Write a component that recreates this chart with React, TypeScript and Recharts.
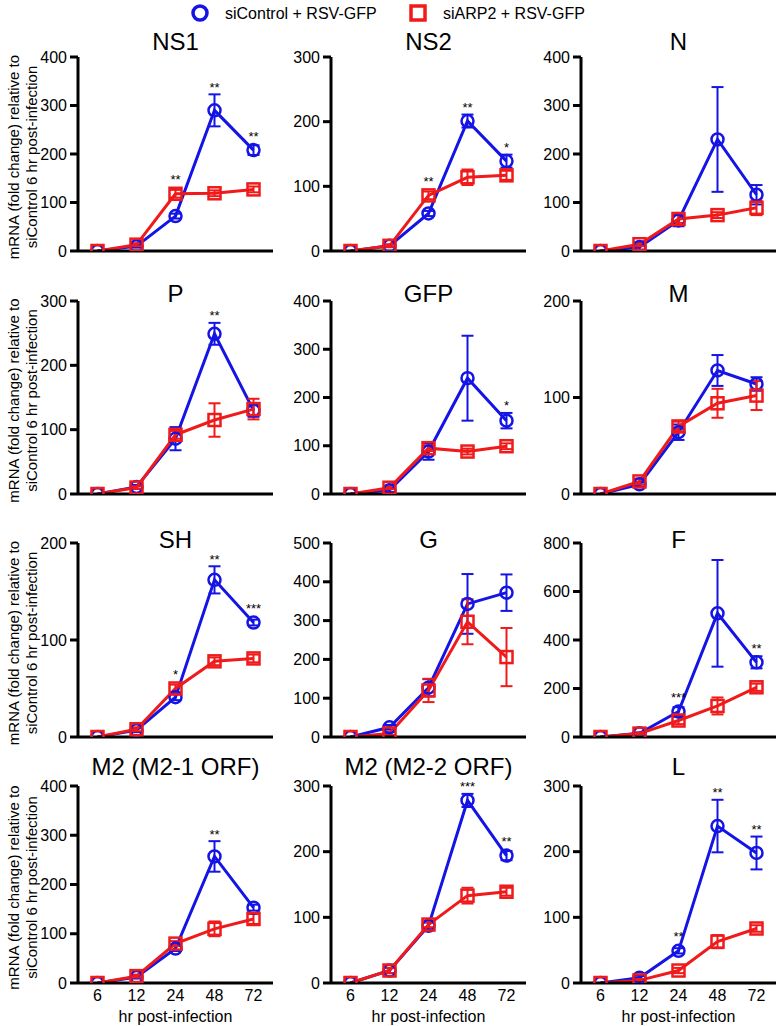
import React from "react";
import { LineChart, Line, XAxis, YAxis, ErrorBar, LabelList } from "recharts";

// hours post-infection
const HOURS = ["6", "12", "24", "48", "72"];

// siControl + RSV-GFP (mean, SEM) and siARP2 + RSV-GFP (mean, SEM), per gene
const NS1_CTRL = [0, 10, 72, 290, 208];
const NS1_CTRL_SEM = [0, 3, 5, 33, 10];
const NS1_ARP2 = [0, 13, 118, 119, 127];
const NS1_ARP2_SEM = [0, 3, 8, 6, 6];
const NS1_SIG = ["", "", "**", "**", "**"];

const NS2_CTRL = [0, 8, 58, 201, 139];
const NS2_CTRL_SEM = [0, 2, 4, 10, 10];
const NS2_ARP2 = [0, 8, 86, 114, 117];
const NS2_ARP2_SEM = [0, 2, 6, 12, 7];
const NS2_SIG = ["", "", "**", "**", "*"];

const N_CTRL = [0, 8, 63, 230, 116];
const N_CTRL_SEM = [0, 5, 12, 108, 20];
const N_ARP2 = [0, 14, 66, 74, 89];
const N_ARP2_SEM = [0, 4, 8, 6, 15];
const N_SIG = ["", "", "", "", ""];

const P_CTRL = [0, 11, 86, 249, 130];
const P_CTRL_SEM = [0, 3, 18, 17, 10];
const P_ARP2 = [0, 10, 92, 115, 132];
const P_ARP2_SEM = [0, 2, 6, 26, 16];
const P_SIG = ["", "", "", "**", ""];

const GFP_CTRL = [0, 8, 88, 240, 152];
const GFP_CTRL_SEM = [0, 4, 17, 88, 16];
const GFP_ARP2 = [0, 13, 95, 88, 99];
const GFP_ARP2_SEM = [0, 3, 6, 6, 6];
const GFP_SIG = ["", "", "", "", "*"];

const M_CTRL = [0, 10, 64, 128, 114];
const M_CTRL_SEM = [0, 2, 8, 16, 7];
const M_ARP2 = [0, 13, 70, 94, 102];
const M_ARP2_SEM = [0, 3, 5, 15, 15];
const M_SIG = ["", "", "", "", ""];

const SH_CTRL = [0, 7, 41, 162, 118];
const SH_CTRL_SEM = [0, 2, 3, 14, 3];
const SH_ARP2 = [0, 8, 50, 78, 81];
const SH_ARP2_SEM = [0, 2, 4, 4, 4];
const SH_SIG = ["", "", "*", "**", "***"];

const G_CTRL = [0, 25, 127, 343, 372];
const G_CTRL_SEM = [0, 6, 22, 77, 47];
const G_ARP2 = [0, 9, 120, 297, 206];
const G_ARP2_SEM = [0, 4, 30, 58, 75];
const G_SIG = ["", "", "", "", ""];

const F_CTRL = [0, 15, 105, 510, 308];
const F_CTRL_SEM = [0, 4, 18, 220, 25];
const F_ARP2 = [0, 14, 68, 128, 205];
const F_ARP2_SEM = [0, 4, 15, 35, 15];
const F_SIG = ["", "", "***", "", "**"];

const M21_CTRL = [0, 12, 70, 257, 153];
const M21_CTRL_SEM = [0, 3, 5, 31, 6];
const M21_ARP2 = [0, 14, 80, 110, 130];
const M21_ARP2_SEM = [0, 3, 5, 15, 10];
const M21_SIG = ["", "", "", "**", ""];

const M22_CTRL = [0, 19, 87, 278, 194];
const M22_CTRL_SEM = [0, 4, 5, 10, 7];
const M22_ARP2 = [0, 19, 89, 133, 139];
const M22_ARP2_SEM = [0, 4, 4, 12, 6];
const M22_SIG = ["", "", "", "***", "**"];

const L_CTRL = [0, 8, 49, 239, 198];
const L_CTRL_SEM = [0, 3, 4, 40, 25];
const L_ARP2 = [0, 4, 19, 63, 83];
const L_ARP2_SEM = [0, 2, 4, 10, 5];
const L_SIG = ["", "", "**", "**", "**"];

const TICKS_200 = [0, 100, 200];
const TICKS_300 = [0, 100, 200, 300];
const TICKS_400 = [0, 100, 200, 300, 400];
const TICKS_500 = [0, 100, 200, 300, 400, 500];
const TICKS_800 = [0, 200, 400, 600, 800];

const BLUE = "#1414e6";
const RED = "#f01a1a";
const FONT = "'Liberation Sans', Arial, sans-serif";

// grid geometry
const COL_X = [78, 331, 581];
const ROW_TOP = [57, 301, 543, 786];
const ROW_H = [194, 193, 194, 197];
const TITLE_Y = [50, 302, 548, 775];
const PLOT_W = 195;
const Y_W = 60;
const MARK_R = 6;

const panels = [
  { title: "NS1", ctrl: NS1_CTRL, ce: NS1_CTRL_SEM, arp: NS1_ARP2, ae: NS1_ARP2_SEM, sig: NS1_SIG, ticks: TICKS_400 },
  { title: "NS2", ctrl: NS2_CTRL, ce: NS2_CTRL_SEM, arp: NS2_ARP2, ae: NS2_ARP2_SEM, sig: NS2_SIG, ticks: TICKS_300 },
  { title: "N", ctrl: N_CTRL, ce: N_CTRL_SEM, arp: N_ARP2, ae: N_ARP2_SEM, sig: N_SIG, ticks: TICKS_400 },
  { title: "P", ctrl: P_CTRL, ce: P_CTRL_SEM, arp: P_ARP2, ae: P_ARP2_SEM, sig: P_SIG, ticks: TICKS_300 },
  { title: "GFP", ctrl: GFP_CTRL, ce: GFP_CTRL_SEM, arp: GFP_ARP2, ae: GFP_ARP2_SEM, sig: GFP_SIG, ticks: TICKS_400 },
  { title: "M", ctrl: M_CTRL, ce: M_CTRL_SEM, arp: M_ARP2, ae: M_ARP2_SEM, sig: M_SIG, ticks: TICKS_200 },
  { title: "SH", ctrl: SH_CTRL, ce: SH_CTRL_SEM, arp: SH_ARP2, ae: SH_ARP2_SEM, sig: SH_SIG, ticks: TICKS_200 },
  { title: "G", ctrl: G_CTRL, ce: G_CTRL_SEM, arp: G_ARP2, ae: G_ARP2_SEM, sig: G_SIG, ticks: TICKS_500 },
  { title: "F", ctrl: F_CTRL, ce: F_CTRL_SEM, arp: F_ARP2, ae: F_ARP2_SEM, sig: F_SIG, ticks: TICKS_800 },
  { title: "M2 (M2-1 ORF)", ctrl: M21_CTRL, ce: M21_CTRL_SEM, arp: M21_ARP2, ae: M21_ARP2_SEM, sig: M21_SIG, ticks: TICKS_400 },
  { title: "M2 (M2-2 ORF)", ctrl: M22_CTRL, ce: M22_CTRL_SEM, arp: M22_ARP2, ae: M22_ARP2_SEM, sig: M22_SIG, ticks: TICKS_300 },
  { title: "L", ctrl: L_CTRL, ce: L_CTRL_SEM, arp: L_ARP2, ae: L_ARP2_SEM, sig: L_SIG, ticks: TICKS_300 },
];

const SquareDot = (props: any) => {
  const { cx, cy, index } = props;
  if (cx == null || cy == null) return null;
  return (
    <rect
      key={`sq-${index}`}
      x={cx - MARK_R}
      y={cy - MARK_R}
      width={MARK_R * 2}
      height={MARK_R * 2}
      fill="none"
      stroke={RED}
      strokeWidth={2.5}
    />
  );
};

// significance stars sit just above the highest cap / marker
const SigLabel = (props: any) => {
  const { x, y, value } = props;
  if (!value || x == null || y == null) return null;
  return (
    <text x={x} y={y - 2.5} textAnchor="middle" fontSize={13} fill="#000" fontFamily={FONT}>
      {value}
    </text>
  );
};

const Panel = ({ p, row, col }: { p: any; row: number; col: number }) => {
  const bottom = row === 3;
  const xh = bottom ? 30 : 14;
  const ymax = p.ticks[p.ticks.length - 1];
  const markUnits = ((MARK_R + 1) * ymax) / ROW_H[row];
  const data = HOURS.map((h, i) => ({
    hr: h,
    ctrl: p.ctrl[i],
    ctrlErr: p.ce[i],
    arp: p.arp[i],
    arpErr: p.ae[i],
    sig: p.sig[i],
    sigY: Math.max(
      p.ctrl[i] + p.ce[i],
      p.arp[i] + p.ae[i],
      p.ctrl[i] + markUnits,
      p.arp[i] + markUnits
    ),
  }));
  return (
    <div style={{ position: "absolute", left: COL_X[col] - Y_W, top: ROW_TOP[row] - 10 }}>
      <LineChart
        width={Y_W + PLOT_W + 5}
        height={10 + ROW_H[row] + xh}
        data={data}
        margin={{ top: 10, right: 5, bottom: 0, left: 0 }}
      >
        <XAxis
          dataKey="hr"
          height={xh}
          padding={{ left: 19.5, right: 19.5 }}
          axisLine={{ stroke: "#000", strokeWidth: 3 }}
          tickLine={false}
          tick={bottom ? { fill: "#000", fontSize: 16, fontFamily: FONT } : false}
          tickMargin={1}
          interval={0}
        />
        <YAxis
          type="number"
          width={Y_W}
          domain={[0, ymax]}
          allowDataOverflow
          ticks={p.ticks}
          interval={0}
          axisLine={{ stroke: "#000", strokeWidth: 3 }}
          tickLine={{ stroke: "#000", strokeWidth: 3 }}
          tickSize={8}
          tickMargin={3}
          tick={{ fill: "#000", fontSize: 16, fontFamily: FONT }}
        />
        <Line
          dataKey="ctrl"
          stroke={BLUE}
          strokeWidth={3}
          dot={{ r: MARK_R, fill: "none", stroke: BLUE, strokeWidth: 2.5 }}
          activeDot={false}
          isAnimationActive={false}
        >
          <ErrorBar dataKey="ctrlErr" width={6} stroke={BLUE} strokeWidth={2} direction="y" />
        </Line>
        <Line
          dataKey="arp"
          stroke={RED}
          strokeWidth={3}
          dot={SquareDot}
          activeDot={false}
          isAnimationActive={false}
        >
          <ErrorBar dataKey="arpErr" width={6} stroke={RED} strokeWidth={2} direction="y" />
        </Line>
        <Line
          dataKey="sigY"
          stroke="none"
          dot={false}
          activeDot={false}
          isAnimationActive={false}
        >
          <LabelList dataKey="sig" content={SigLabel} />
        </Line>
      </LineChart>
    </div>
  );
};

export default function App() {
  return (
    <div style={{ position: "absolute", left: 0, top: 0, width: 776, height: 1026, background: "#fff", fontFamily: FONT }}>
      {panels.map((p, i) => (
        <Panel key={p.title} p={p} row={Math.floor(i / 3)} col={i % 3} />
      ))}
      <svg
        width={776}
        height={1026}
        style={{ position: "absolute", left: 0, top: 0, pointerEvents: "none" }}
        fontFamily={FONT}
      >
        {/* legend */}
        <circle cx={200} cy={13} r={7} fill="none" stroke={BLUE} strokeWidth={3.5} />
        <text x={225} y={19} fontSize={16} fill="#000">siControl + RSV-GFP</text>
        <rect x={411} y={6} width={14} height={14} fill="none" stroke={RED} strokeWidth={3.5} />
        <text x={443} y={19} fontSize={16} fill="#000">siARP2 + RSV-GFP</text>

        {panels.map((p, i) => {
          const row = Math.floor(i / 3);
          const col = i % 3;
          return (
            <text
              key={`t-${p.title}`}
              x={COL_X[col] + PLOT_W / 2}
              y={TITLE_Y[row]}
              textAnchor="middle"
              fontSize={24}
              fill="#000"
            >
              {p.title}
            </text>
          );
        })}

        {ROW_TOP.map((top, r) => {
          const cy = top + ROW_H[r] / 2 + 3;
          return (
            <g key={`yl-${r}`}>
              <text
                transform={`translate(13, ${cy}) rotate(-90)`}
                textAnchor="middle"
                dominantBaseline="central"
                fontSize={15}
                fill="#000"
              >
                mRNA (fold change) relative to
              </text>
              <text
                transform={`translate(31, ${cy}) rotate(-90)`}
                textAnchor="middle"
                dominantBaseline="central"
                fontSize={15}
                fill="#000"
              >
                siControl 6 hr post-infection
              </text>
            </g>
          );
        })}

        {COL_X.map((x, c) => (
          <text
            key={`xl-${c}`}
            x={x + PLOT_W / 2}
            y={1022}
            textAnchor="middle"
            fontSize={16}
            fill="#000"
          >
            hr post-infection
          </text>
        ))}
      </svg>
    </div>
  );
}
